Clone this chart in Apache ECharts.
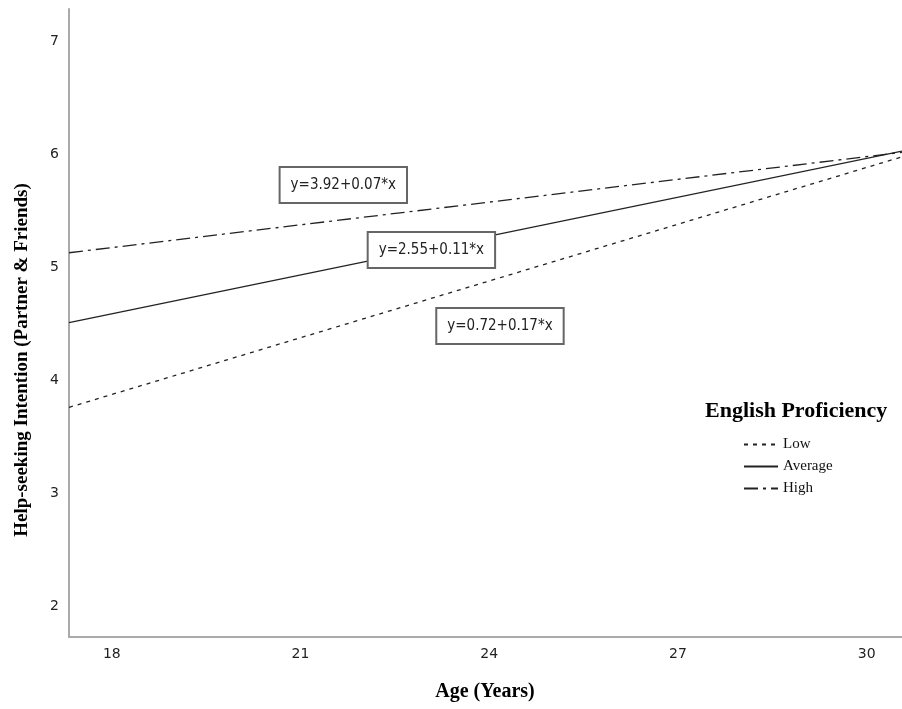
<!DOCTYPE html>
<html>
<head>
<meta charset="utf-8">
<script src="https://cdn.jsdelivr.net/npm/echarts@6/dist/echarts.min.js"></script>
<style>
html, body { margin: 0; padding: 0; background: #fff; }
#chart { width: 902px; height: 709px; }
</style>
</head>
<body>
<div id="chart"></div>
<script>
// fitted lines, read at the left and right edge of the plot
const ageRange = [17.32, 30.56];
const lowValues = [3.76, 5.98];
const averageValues = [4.51, 6.03];
const highValues = [5.13, 6.02];
const seriesNames = ['Low', 'Average', 'High'];
const equationText = ['y=0.72+0.17*x', 'y=2.55+0.11*x', 'y=3.92+0.07*x'];
const xTicks = [18, 21, 24, 27, 30];
const yTicks = [2, 3, 4, 5, 6, 7];

let chartDom = document.getElementById('chart');
let myChart = echarts.init(chartDom, null, { renderer: 'canvas' });

function pairs(values) {
    return ageRange.map((a, i) => [a, values[i]]);
}

function equationBox(text, coord) {
    return {
        silent: true,
        symbol: 'rect',
        symbolSize: 1,
        itemStyle: { color: 'rgba(0,0,0,0)' },
        label: {
            show: true,
            position: 'inside',
            formatter: '{b}',
            color: '#222',
            fontFamily: '"DejaVu Sans Condensed", "DejaVu Sans"',
            fontSize: 15,
            lineHeight: 16,
            backgroundColor: '#fff',
            borderColor: '#666',
            borderWidth: 2,
            padding: [9, 10]
        },
        data: [{ name: text, coord: coord }]
    };
}

const lineColor = '#222';

let option = {
    animation: false,
    title: {
        text: 'English Proficiency',
        left: 705,
        top: 400,
        padding: 0,
        textStyle: {
            fontFamily: '"Liberation Serif"',
            fontWeight: 'bold',
            fontSize: 22,
            color: '#000'
        }
    },
    legend: {
        data: seriesNames,
        orient: 'vertical',
        left: 743,
        top: 437,
        padding: 0,
        itemWidth: 34,
        itemHeight: 14,
        itemGap: 7,
        itemStyle: { opacity: 0 },
        textStyle: {
            fontFamily: '"Liberation Serif"',
            fontSize: 15,
            color: '#111'
        }
    },
    grid: {
        left: 69,
        right: 0,
        top: 9,
        bottom: 72
    },
    xAxis: {
        type: 'value',
        min: ageRange[0],
        max: ageRange[1],
        axisLine: { onZero: false, lineStyle: { color: '#aaa', width: 2 } },
        axisTick: { show: false },
        splitLine: { show: false },
        axisLabel: {
            customValues: xTicks,
            margin: 10,
            fontFamily: '"DejaVu Sans"',
            fontSize: 14,
            color: '#222'
        }
    },
    yAxis: {
        type: 'value',
        min: 1.725,
        max: 7.29,
        axisLine: { show: true, onZero: false, lineStyle: { color: '#aaa', width: 2 } },
        axisTick: { show: false },
        splitLine: { show: false },
        axisLabel: {
            customValues: yTicks,
            margin: 10,
            fontFamily: '"DejaVu Sans"',
            fontSize: 14,
            color: '#222'
        }
    },
    graphic: [
        {
            type: 'text',
            x: 485,
            y: 692,
            style: {
                text: 'Age (Years)',
                font: 'bold 20px "Liberation Serif"',
                fill: '#000',
                align: 'center',
                verticalAlign: 'middle',
                textAlign: 'center',
                textVerticalAlign: 'middle'
            }
        },
        {
            type: 'text',
            x: 22,
            y: 360,
            rotation: Math.PI / 2,
            style: {
                text: 'Help-seeking Intention (Partner & Friends)',
                font: 'bold 19px "Liberation Serif"',
                fill: '#000',
                align: 'center',
                verticalAlign: 'middle',
                textAlign: 'center',
                textVerticalAlign: 'middle'
            }
        }
    ],
    series: [
        {
            name: seriesNames[0],
            type: 'line',
            data: pairs(lowValues),
            symbol: 'none',
            lineStyle: { color: lineColor, width: 1.3, type: [4, 5] },
            itemStyle: { color: lineColor },
            markPoint: equationBox(equationText[0], [24.17, 4.48])
        },
        {
            name: seriesNames[1],
            type: 'line',
            data: pairs(averageValues),
            symbol: 'none',
            lineStyle: { color: lineColor, width: 1.3, type: 'solid' },
            itemStyle: { color: lineColor },
            markPoint: equationBox(equationText[1], [23.08, 5.155])
        },
        {
            name: seriesNames[2],
            type: 'line',
            data: pairs(highValues),
            symbol: 'none',
            lineStyle: { color: lineColor, width: 1.3, type: [14, 5, 3, 5] },
            itemStyle: { color: lineColor },
            markPoint: equationBox(equationText[2], [21.68, 5.73])
        }
    ]
};

option && myChart.setOption(option);
</script>
</body>
</html>
